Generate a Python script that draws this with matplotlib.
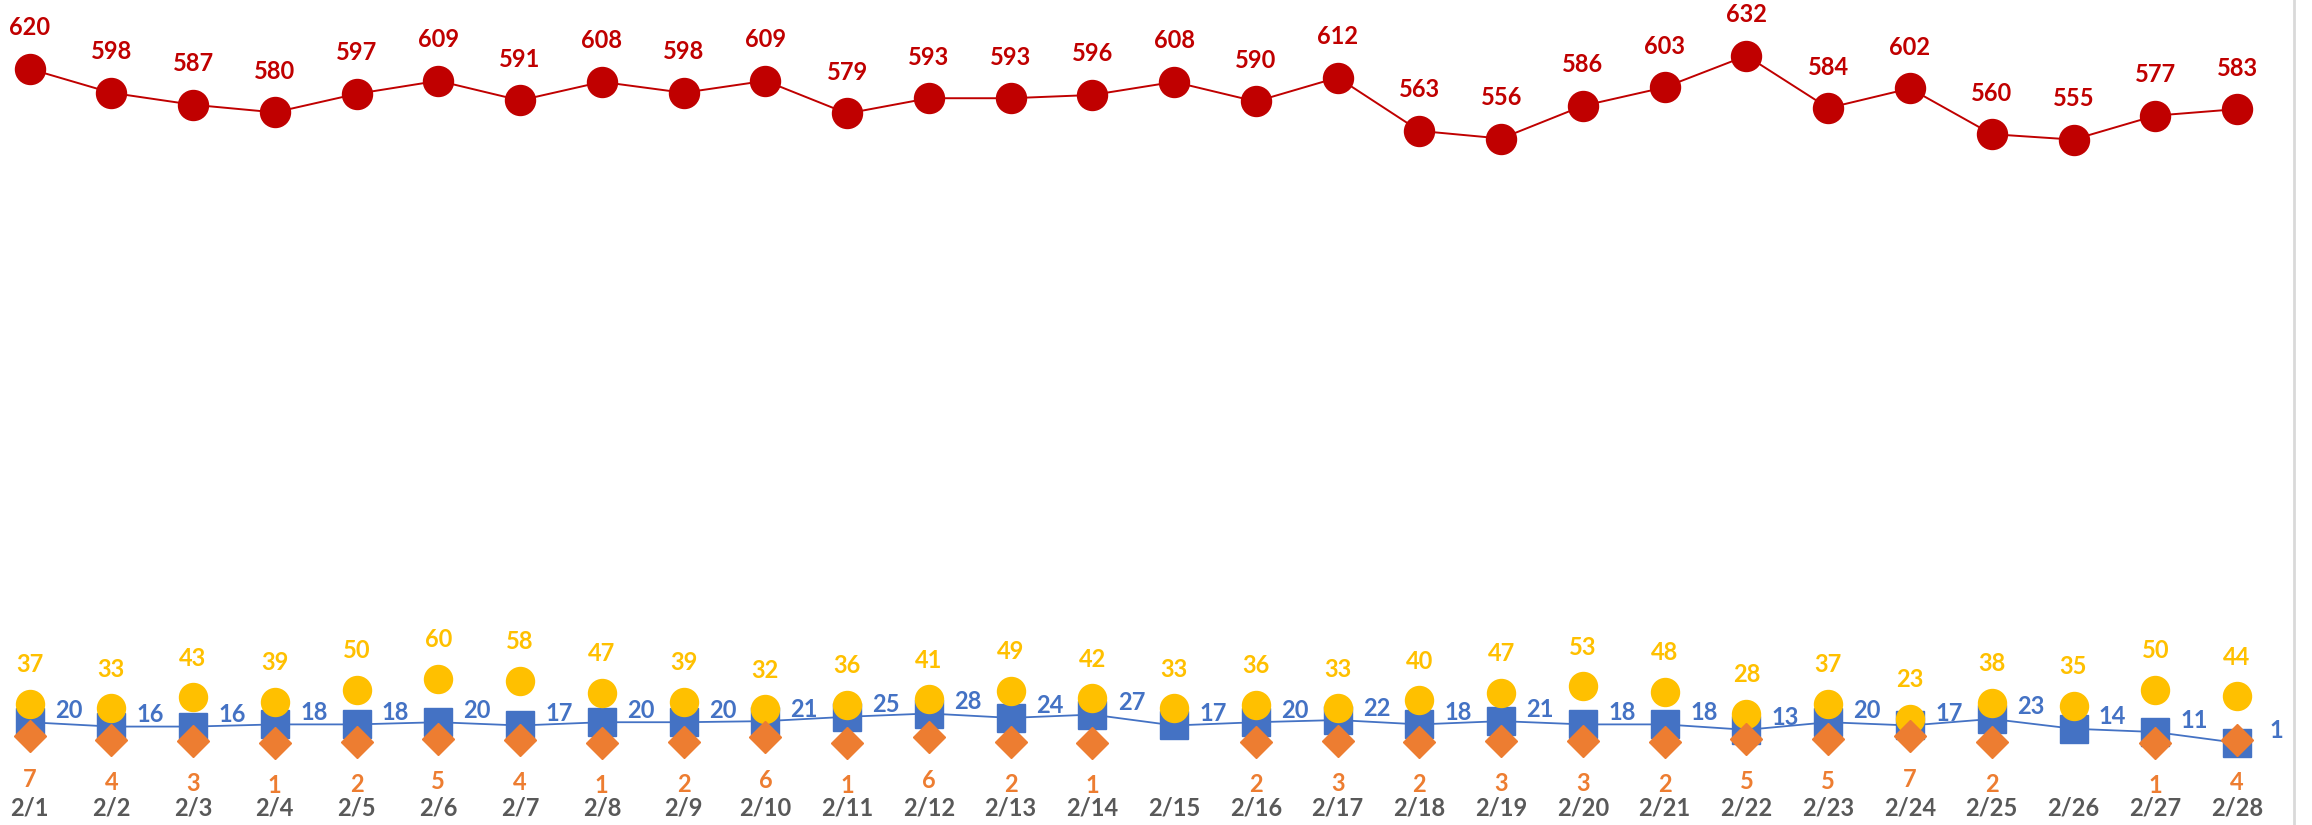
import matplotlib
matplotlib.use("Agg")
import matplotlib.pyplot as plt
from matplotlib.lines import Line2D

dates = ["2/1", "2/2", "2/3", "2/4", "2/5", "2/6", "2/7", "2/8", "2/9", "2/10",
         "2/11", "2/12", "2/13", "2/14", "2/15", "2/16", "2/17", "2/18", "2/19", "2/20",
         "2/21", "2/22", "2/23", "2/24", "2/25", "2/26", "2/27", "2/28"]
red_vals = [620, 598, 587, 580, 597, 609, 591, 608, 598, 609, 579, 593, 593, 596,
            608, 590, 612, 563, 556, 586, 603, 632, 584, 602, 560, 555, 577, 583]
yellow_vals = [37, 33, 43, 39, 50, 60, 58, 47, 39, 32, 36, 41, 49, 42,
               33, 36, 33, 40, 47, 53, 48, 28, 37, 23, 38, 35, 50, 44]
blue_vals = [20, 16, 16, 18, 18, 20, 17, 20, 20, 21, 25, 28, 24, 27,
             17, 20, 22, 18, 21, 18, 18, 13, 20, 17, 23, 14, 11, 1]
orange_vals = [7, 4, 3, 1, 2, 5, 4, 1, 2, 6, 1, 6, 2, 1,
               None, 2, 3, 2, 3, 3, 2, 5, 5, 7, 2, None, 1, 4]

RED = "#C00000"
YEL = "#FFC000"
BLUE = "#4472C4"
ORA = "#ED7D31"
GRAY = "#595959"
FONT = "Lato"
LBL = 17

W, H = 2312, 825
fig = plt.figure(figsize=(W / 100, H / 100), dpi=100)
ax_right_px = 2294
ax_bottom_px = 790
ax = fig.add_axes([0, (H - ax_bottom_px) / H, ax_right_px / W, ax_bottom_px / H])

x = list(range(len(dates)))
px_per_unit = 1.089
zero_px = 744
ax.set_ylim(-(ax_bottom_px - zero_px) / px_per_unit, zero_px / px_per_unit)
spacing = 81.76
xmin = -29.5 / spacing
ax.set_xlim(xmin, xmin + ax_right_px / spacing)

pt = 0.72  # points per pixel at dpi 100

# red series
ax.plot(x, red_vals, color=RED, lw=1.4, marker="o", ms=30 * pt, mfc=RED, mec=RED, zorder=3)
for xi, v in zip(x, red_vals):
    ax.annotate(str(v), (xi, v), xytext=(0, 41 * pt), textcoords="offset points",
                ha="center", va="center", color=RED, fontsize=LBL, fontweight="bold",
                family=FONT)

# blue series (line + squares)
ax.plot(x, blue_vals, color=BLUE, lw=1.3, marker="s", ms=28 * pt, mfc=BLUE, mec=BLUE, zorder=2)
for xi, v in zip(x, blue_vals):
    ax.annotate(str(v), (xi, v), xytext=(39 * pt, 12 * pt), textcoords="offset points",
                ha="center", va="center", color=BLUE, fontsize=LBL, fontweight="bold",
                family=FONT)

# yellow series (markers only)
ax.plot(x, yellow_vals, ls="none", marker="o", ms=28 * pt, mfc=YEL, mec=YEL, zorder=4)
for xi, v in zip(x, yellow_vals):
    ax.annotate(str(v), (xi, v), xytext=(0, 39 * pt), textcoords="offset points",
                ha="center", va="center", color=YEL, fontsize=LBL, fontweight="bold",
                family=FONT)

# orange series (markers only)
ox = [xi for xi, v in zip(x, orange_vals) if v is not None]
ov = [v for v in orange_vals if v is not None]
ax.plot(ox, ov, ls="none", marker="D", ms=22 * pt, mfc=ORA, mec=ORA, zorder=5)
for xi, v in zip(ox, ov):
    ax.annotate(str(v), (xi, v), xytext=(0, -43 * pt), textcoords="offset points",
                ha="center", va="center", color=ORA, fontsize=LBL, fontweight="bold",
                family=FONT)

ax.set_xticks(x)
ax.set_xticklabels(dates, fontsize=17, fontweight="bold", color=GRAY, family=FONT)
ax.tick_params(axis="x", length=0, pad=5)
ax.set_yticks([])
for s in ax.spines.values():
    s.set_visible(False)
ax.patch.set_alpha(0)

# light gray frame edge at right
fig.add_artist(Line2D([ax_right_px / W, ax_right_px / W], [0, 1], color="#D9D9D9",
                      lw=2, transform=fig.transFigure))

fig.savefig("out.png", dpi=100, facecolor="white")
